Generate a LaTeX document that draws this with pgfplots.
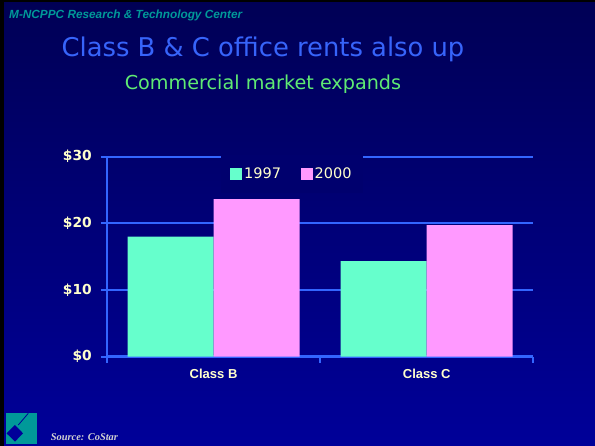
\documentclass[border=0pt]{standalone}
\usepackage{fontspec}
\setmainfont{Liberation Sans}
\newfontfamily\dvs{DejaVu Sans}
\newfontfamily\lser{Liberation Serif}
\usepackage{pgfplots}
\pgfplotsset{compat=1.18}
\definecolor{bgtop}{RGB}{0,0,85}
\definecolor{bgbot}{RGB}{0,0,153}
\definecolor{legbg}{RGB}{0,0,110}
\definecolor{axblue}{RGB}{51,102,255}
\definecolor{cream}{RGB}{255,255,204}
\definecolor{c97}{RGB}{102,255,204}
\definecolor{c00}{RGB}{255,153,255}
\definecolor{titleblue}{RGB}{55,100,250}
\definecolor{subgreen}{RGB}{95,235,115}
\definecolor{tealc}{RGB}{0,153,153}
\definecolor{srcgrey}{RGB}{210,210,210}
\pgfplotsset{mylegend/.style={legend image code/.code={\fill[##1] (0pt,-5.85pt) rectangle (11.7pt,5.85pt);}}}
\begin{document}
\begin{tikzpicture}
\useasboundingbox (0pt,0pt) rectangle (595pt,446pt);
\shade[top color=bgtop,bottom color=bgbot] (0pt,0pt) rectangle (595pt,446pt);
\fill[black] (0pt,0pt) rectangle (4pt,446pt);
\fill[black] (0pt,444pt) rectangle (595pt,446pt);
% logo
\fill[tealc] (6pt,1.7pt) rectangle (36.7pt,32.7pt);
\fill[bgbot] (6.5pt,12.7pt) -- (15pt,21pt) -- (23pt,12.7pt) -- (15pt,4.4pt) -- cycle;
\draw[bgbot, line width=0.8pt] (28.3pt,32.7pt) -- (18.3pt,21pt);
% texts
\node[anchor=base west, inner sep=0, text=tealc, font=\bfseries\itshape\fontsize{11.8}{14}\selectfont] at (9pt,427pt) {M-NCPPC Research \& Technology Center};
\node[anchor=base, inner sep=0, text=titleblue, font=\dvs\fontsize{25.8}{30}\selectfont] at (263pt,389.3pt) {Class B \& C office rents also up};
\node[anchor=base, inner sep=0, text=subgreen, font=\dvs\fontsize{19.2}{22}\selectfont] at (263pt,356.7pt) {Commercial market expands};
\node[anchor=base west, inner sep=0, text=srcgrey, font=\lser\bfseries\itshape\fontsize{10.4}{12}\selectfont] at (50.7pt,5pt) {Source: CoStar};
\begin{axis}[
  at={(107pt,89.3pt)}, anchor=south west, scale only axis,
  width=426.3pt, height=200pt,
  xmin=-0.5, xmax=1.5, ymin=0, ymax=30,
  axis x line*=bottom, axis y line*=left,
  axis line style={axblue, line width=2.5pt},
  ytick={0,10,20,30}, yticklabels={\$0,\$10,\$20,\$30},
  ymajorgrids, grid style={axblue, line width=2pt},
  tick align=outside, major tick length=6pt,
  tick style={axblue, line width=2pt},
  xtick={-0.5,0.5,1.5}, xticklabels={},
  extra x ticks={0,1}, extra x tick labels={Class B,Class C},
  extra x tick style={major tick length=0pt, tick style={draw=none}, grid=none},
  yticklabel style={font=\dvs\bfseries\fontsize{13.8}{15}\selectfont, text=cream, inner sep=0pt, xshift=-9pt},
  xticklabel style={font=\bfseries\fontsize{13}{15}\selectfont, text=cream, inner sep=0pt, yshift=-12pt},
  legend style={at={(0.434,0.913)}, anchor=center, draw=none, fill=legbg,
    legend columns=2, font=\dvs\fontsize{14.5}{16}\selectfont, text=cream,
    inner xsep=9pt, inner ysep=11pt,
    /tikz/every even column/.append style={column sep=18pt}},
]
\addplot[ybar, bar width=86pt, bar shift=-43pt, fill=c97, draw=none, mylegend] coordinates {(0,18.0) (1,14.35)};
\addplot[ybar, bar width=86pt, bar shift=43pt, fill=c00, draw=none, mylegend] coordinates {(0,23.65) (1,19.75)};
\legend{1997,2000}
\end{axis}
\end{tikzpicture}
\end{document}
